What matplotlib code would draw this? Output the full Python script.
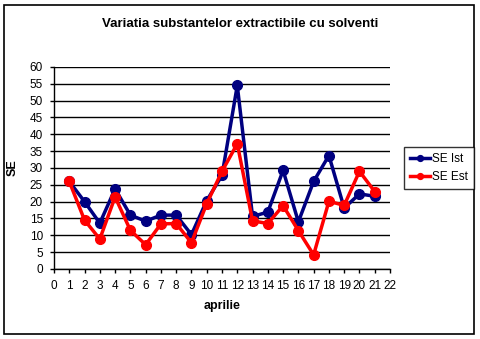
import matplotlib
matplotlib.use("Agg")
import matplotlib.pyplot as plt
from matplotlib.patches import Rectangle

zile = list(range(1, 22))
se_ist = [26, 20, 13.6, 23.8, 16, 14.2, 16, 16, 10.2, 20.3, 27.8,
          54.5, 15.6, 16.9, 29.3, 14, 26, 33.7, 18.1, 22.3, 21.6]
se_est = [26, 14.5, 8.9, 21.4, 11.5, 7.2, 13.4, 13.5, 7.8, 19.4, 29,
          37.2, 14.3, 13.5, 18.8, 11.4, 4.2, 20.1, 18.9, 29, 23]
x_ticks = list(range(0, 23))
y_ticks = list(range(0, 61, 5))

plt.rcParams['font.family'] = ['Liberation Sans', 'DejaVu Sans']

fig = plt.figure(figsize=(4.8, 3.39), dpi=100)
ax = fig.add_axes([0.1125, 0.2065, 0.7, 0.596])

ax.plot(zile, se_ist, color="#000080", lw=2.5, marker="o", ms=7, label="SE Ist", zorder=3)
ax.plot(zile, se_est, color="#ff0000", lw=2.5, marker="o", ms=7, label="SE Est", zorder=4)

ax.set_xlim(0, 22)
ax.set_ylim(0, 60)
ax.set_xticks(x_ticks)
ax.set_yticks(y_ticks)
ax.tick_params(labelsize=8.5, length=3, width=1, color="black", pad=5)
ax.yaxis.grid(True, color="black", lw=1)
ax.set_axisbelow(True)
for s in ["top", "right"]:
    ax.spines[s].set_visible(False)
for s in ["left", "bottom"]:
    ax.spines[s].set_linewidth(1)

ax.set_xlabel("aprilie", fontsize=9, fontweight="bold", labelpad=6)
ax.set_ylabel("SE", fontsize=9, fontweight="bold", labelpad=8)
fig.text(0.5, 0.928, "Variatia substantelor extractibile cu solventi",
         ha="center", va="center", fontsize=9.5, fontweight="bold")

leg = fig.legend(loc="center left", bbox_to_anchor=(0.842, 0.504), fontsize=8.5,
                 frameon=True, fancybox=False, edgecolor="black",
                 handlelength=1.7, handletextpad=0.2, markerscale=0.6,
                 borderpad=0.5, borderaxespad=0, labelspacing=0.55)
leg.get_frame().set_linewidth(1)

fig.patches.append(Rectangle((0.008, 0.015), 0.98, 0.97, transform=fig.transFigure,
                             fill=False, edgecolor="black", lw=1.2))

fig.savefig("out.png", dpi=100)
